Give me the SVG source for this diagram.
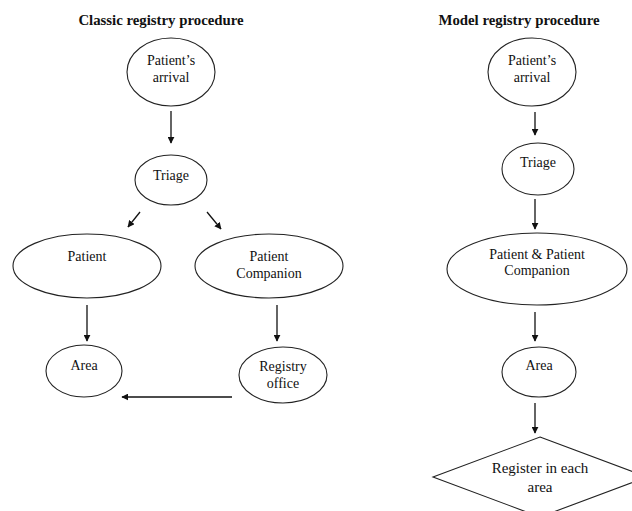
<svg xmlns="http://www.w3.org/2000/svg" width="632" height="511" viewBox="0 0 632 511">
<style>
.n{fill:#fff;stroke:#222;stroke-width:1.1}
.t{font-family:"Liberation Serif","Times New Roman",serif;font-size:14px;fill:#111;text-anchor:middle}
.d{font-size:15px}
.h{font-family:"Liberation Serif","Times New Roman",serif;font-size:14.8px;font-weight:bold;fill:#111;text-anchor:middle}
.c{stroke:#111;stroke-width:1.3;fill:none;marker-end:url(#a)}
</style>
<defs>
<marker id="a" viewBox="0 0 10 10" refX="9" refY="5" markerWidth="7" markerHeight="7" markerUnits="userSpaceOnUse" orient="auto">
<path d="M0,0 L10,5 L0,10 z" fill="#111"/>
</marker>
</defs>
<rect width="632" height="511" fill="#fff"/>
<text class="h" x="161" y="25">Classic registry procedure</text>
<text class="h" x="519" y="25">Model registry procedure</text>
<g id="connectors">
<line class="c" x1="171" y1="111" x2="171" y2="143"/>
<line class="c" x1="140" y1="212" x2="128" y2="227"/>
<line class="c" x1="207" y1="212" x2="221" y2="229"/>
<line class="c" x1="87" y1="305" x2="87" y2="341"/>
<line class="c" x1="277" y1="305" x2="277" y2="341"/>
<line class="c" x1="232" y1="397" x2="122" y2="397"/>
<line class="c" x1="535" y1="112" x2="535" y2="135"/>
<line class="c" x1="535" y1="199" x2="535" y2="229"/>
<line class="c" x1="535" y1="312" x2="535" y2="341"/>
<line class="c" x1="535" y1="403" x2="535" y2="433"/>
</g>
<g id="c-arrival">
<ellipse class="n" cx="171" cy="72" rx="44" ry="34"/>
<text class="t" x="171" y="65">Patient’s</text>
<text class="t" x="171" y="82">arrival</text>
</g>
<g id="c-triage">
<ellipse class="n" cx="171" cy="180" rx="36" ry="25"/>
<text class="t" x="171" y="180">Triage</text>
</g>
<g id="c-patient">
<ellipse class="n" cx="87" cy="266" rx="74" ry="32"/>
<text class="t" x="87" y="261">Patient</text>
</g>
<g id="c-companion">
<ellipse class="n" cx="269" cy="266" rx="74" ry="32"/>
<text class="t" x="269" y="261">Patient</text>
<text class="t" x="269" y="278">Companion</text>
</g>
<g id="c-area">
<ellipse class="n" cx="84" cy="371" rx="38" ry="26"/>
<text class="t" x="84" y="370">Area</text>
</g>
<g id="c-registry">
<ellipse class="n" cx="283" cy="375" rx="44" ry="28"/>
<text class="t" x="283" y="371">Registry</text>
<text class="t" x="283" y="388">office</text>
</g>
<g id="m-arrival">
<ellipse class="n" cx="532" cy="72" rx="44" ry="34"/>
<text class="t" x="532" y="65">Patient’s</text>
<text class="t" x="532" y="82">arrival</text>
</g>
<g id="m-triage">
<ellipse class="n" cx="538" cy="169" rx="36" ry="26"/>
<text class="t" x="538" y="167">Triage</text>
</g>
<g id="m-both">
<ellipse class="n" cx="537" cy="269" rx="90" ry="36"/>
<text class="t" x="537" y="259">Patient &amp; Patient</text>
<text class="t" x="537" y="275">Companion</text>
</g>
<g id="m-area">
<ellipse class="n" cx="539" cy="372" rx="37" ry="25"/>
<text class="t" x="539" y="370">Area</text>
</g>
<g id="m-register">
<polygon class="n" points="540,437 647,477 540,517 433,477"/>
<text class="t d" x="540" y="473">Register in each</text>
<text class="t d" x="540" y="492">area</text>
</g>
</svg>
